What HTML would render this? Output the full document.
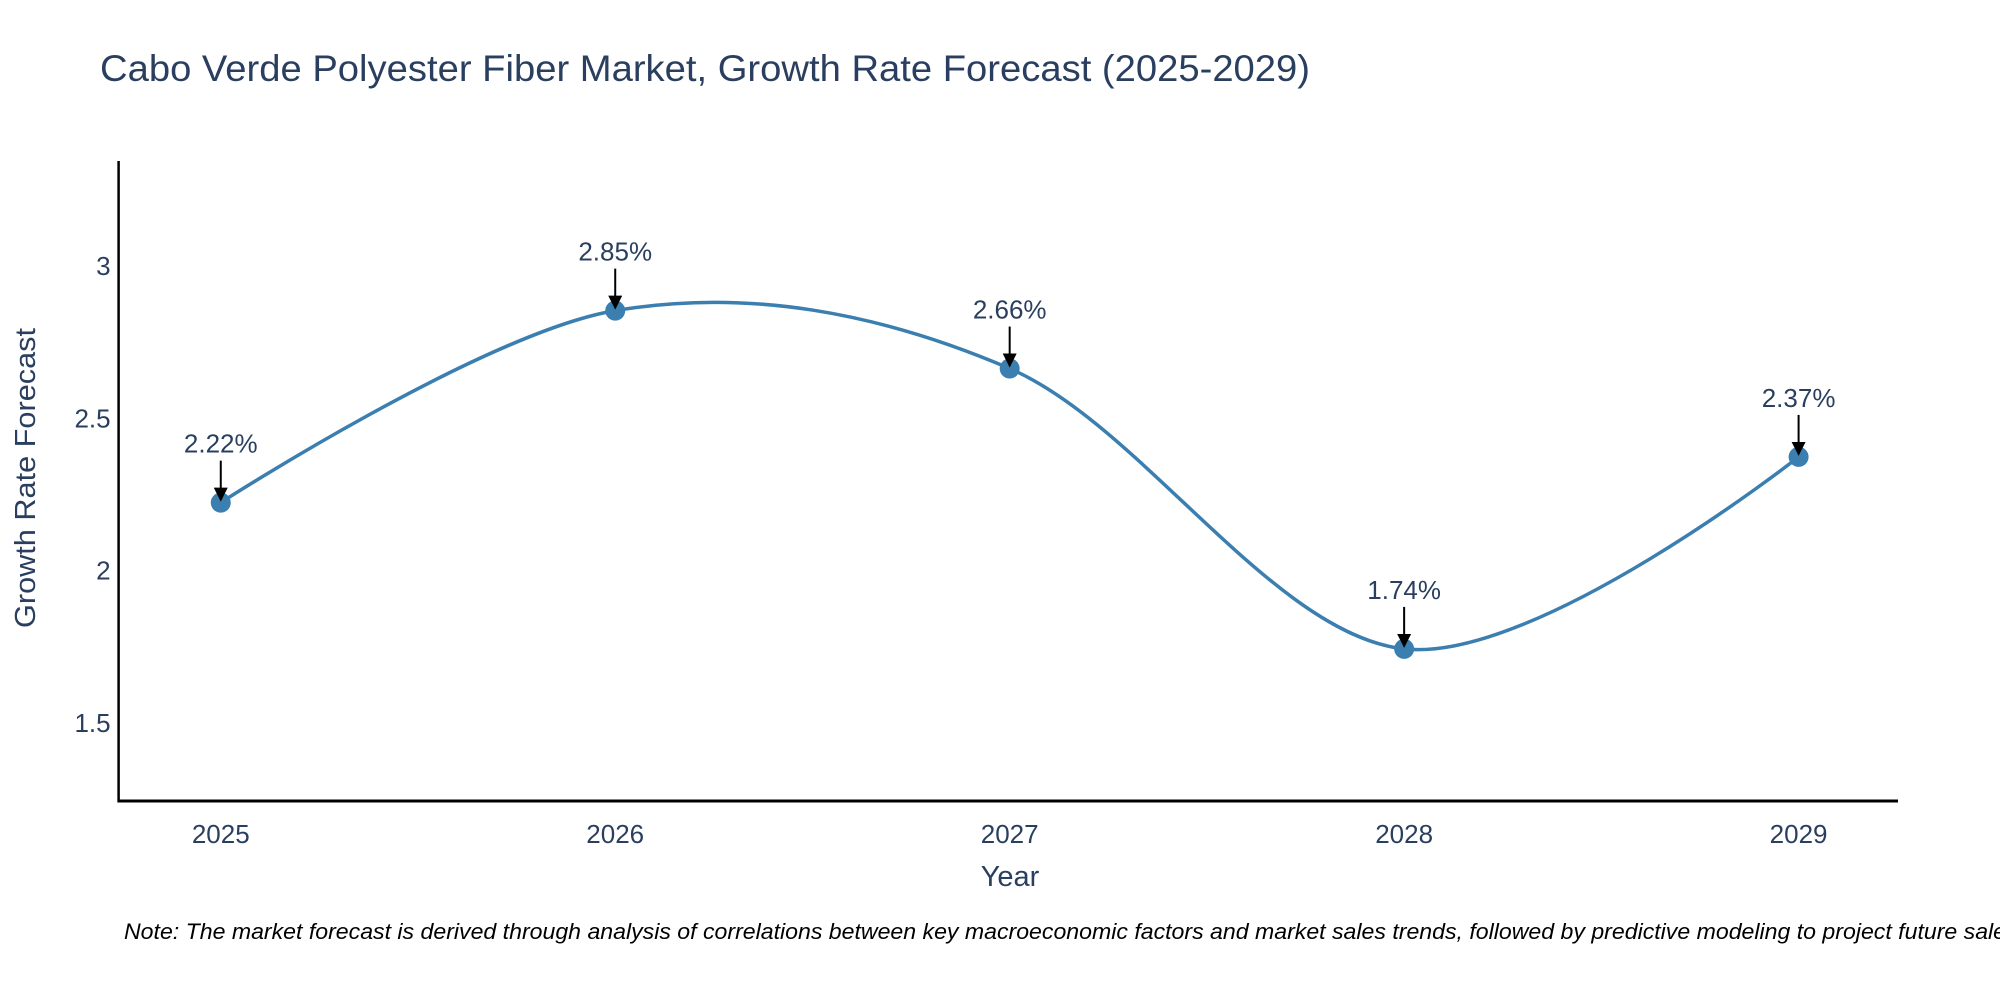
<!DOCTYPE html>
<html><head><meta charset="utf-8">
<style>
html,body{margin:0;padding:0;background:#fff;}
svg{display:block;font-family:"Liberation Sans","DejaVu Sans",sans-serif;}
</style></head>
<body>
<svg id="chart" width="2000" height="1000" viewBox="0 0 2000 1000" xmlns="http://www.w3.org/2000/svg">
<defs>
<marker id="arrowhead" markerWidth="14" markerHeight="14" refX="12" refY="7" orient="auto" markerUnits="userSpaceOnUse" viewBox="0 0 14 14">
<path d="M0,0 L14,7 L0,14 z" fill="#000"/>
</marker>
</defs>
<text x="100" y="81" font-size="37" fill="#2a3f5f" textLength="1210" lengthAdjust="spacingAndGlyphs">Cabo Verde Polyester Fiber Market, Growth Rate Forecast (2025-2029)</text>
<g id="plot"></g>
<text x="1010" y="886" font-size="29" fill="#2a3f5f" text-anchor="middle">Year</text>
<text transform="translate(35,478) rotate(-90)" font-size="29" fill="#2a3f5f" text-anchor="middle" textLength="300" lengthAdjust="spacingAndGlyphs">Growth Rate Forecast</text>
<text x="124" y="939" font-size="22" font-style="italic" fill="#000" textLength="1900" lengthAdjust="spacingAndGlyphs">Note: The market forecast is derived through analysis of correlations between key macroeconomic factors and market sales trends, followed by predictive modeling to project future sales.</text>
</svg>
<script>
const years = [2025, 2026, 2027, 2028, 2029];
const growth = [2.22, 2.85, 2.66, 1.74, 2.37];
const labels = ["2.22%", "2.85%", "2.66%", "1.74%", "2.37%"];
const yTicks = [1.5, 2, 2.5, 3];
const yTickLabels = ["1.5", "2", "2.5", "3"];

const L = 118.6, R = 1898, T = 161, B = 801;
const xMin = 2024.741, xMax = 2029.252, yMin = 1.241, yMax = 3.341;
const xs = v => L + (v - xMin) / (xMax - xMin) * (R - L);
const ys = v => B - (v - yMin) / (yMax - yMin) * (B - T);
const NS = "http://www.w3.org/2000/svg";
const g = document.getElementById('plot');
function mk(tag, attrs, parent) {
  const e = document.createElementNS(NS, tag);
  for (const k in attrs) e.setAttribute(k, attrs[k]);
  (parent || g).appendChild(e);
  return e;
}
const yAxis = mk('line', {x1: L, y1: T, x2: L, y2: B + 1.5, stroke: '#000', 'stroke-width': 2.5});


const xAxis = mk('line', {x1: L - 1, y1: B, x2: R, y2: B, stroke: '#000', 'stroke-width': 3});


yTicks.forEach((t, i) => {
  const tx = mk('text', {x: L - 8, y: ys(t) + 10, 'font-size': 26, fill: '#2a3f5f', 'text-anchor': 'end'});
  tx.textContent = yTickLabels[i];
  
  
});
years.forEach(yr => {
  const tx = mk('text', {x: xs(yr), y: B + 42, 'font-size': 26, fill: '#2a3f5f', 'text-anchor': 'middle'});
  tx.textContent = String(yr);
  
  
});
const pts = years.map((yr, i) => [xs(yr), ys(growth[i])]);
const k = 1 / 6;
let d = `M${pts[0][0]},${pts[0][1]}`;
for (let i = 0; i < pts.length - 1; i++) {
  const p0 = pts[Math.max(i - 1, 0)], p1 = pts[i], p2 = pts[i + 1], p3 = pts[Math.min(i + 2, pts.length - 1)];
  const c1 = i === 0 ? p1 : [p1[0] + (p2[0] - p0[0]) * k, p1[1] + (p2[1] - p0[1]) * k];
  const c2 = i + 1 === pts.length - 1 ? p2 : [p2[0] - (p3[0] - p1[0]) * k, p2[1] - (p3[1] - p1[1]) * k];
  d += ` C${c1[0]},${c1[1]} ${c2[0]},${c2[1]} ${p2[0]},${p2[1]}`;
}
const line = mk('path', {d: d, fill: 'none', stroke: '#3b7eb0', 'stroke-width': 3.5});


pts.forEach((p, i) => {
  const c = mk('circle', {cx: p[0], cy: p[1], r: 10, fill: '#3b7eb0'});
  
  
  const a = mk('line', {x1: p[0], y1: p[1] - 42, x2: p[0], y2: p[1] - 3, stroke: '#000', 'stroke-width': 2, 'marker-end': 'url(#arrowhead)'});
  
  
  const t = mk('text', {x: p[0], y: p[1] - 50, 'font-size': 26, fill: '#2a3f5f', 'text-anchor': 'middle'});
  t.textContent = labels[i];
  
  
});
</script>
</body></html>
